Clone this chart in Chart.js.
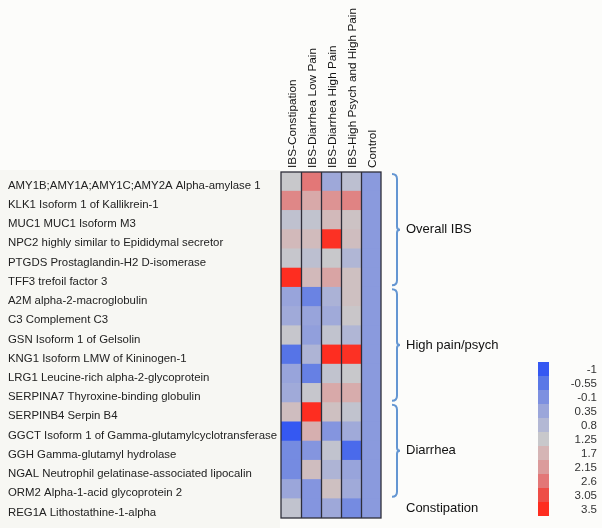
<!DOCTYPE html>
<html>
<head>
<meta charset="utf-8">
<script src="https://cdn.jsdelivr.net/npm/chart.js@4/dist/chart.umd.min.js"></script>
<style>
  html, body { margin: 0; padding: 0; background: #fcfcfa; }
  #wrap { width: 602px; height: 528px; }
</style>
</head>
<body>
<div id="wrap"><canvas id="heat"></canvas></div>
<script>
const proteins = [
  'AMY1B;AMY1A;AMY1C;AMY2A Alpha-amylase 1',
  'KLK1 Isoform 1 of Kallikrein-1',
  'MUC1 MUC1 Isoform M3',
  'NPC2 highly similar to Epididymal secretor',
  'PTGDS Prostaglandin-H2 D-isomerase',
  'TFF3 trefoil factor 3',
  'A2M alpha-2-macroglobulin',
  'C3 Complement C3',
  'GSN Isoform 1 of Gelsolin',
  'KNG1 Isoform LMW of Kininogen-1',
  'LRG1 Leucine-rich alpha-2-glycoprotein',
  'SERPINA7 Thyroxine-binding globulin',
  'SERPINB4 Serpin B4',
  'GGCT Isoform 1 of Gamma-glutamylcyclotransferase',
  'GGH Gamma-glutamyl hydrolase',
  'NGAL Neutrophil gelatinase-associated lipocalin',
  'ORM2 Alpha-1-acid glycoprotein 2',
  'REG1A Lithostathine-1-alpha'
];
const conditions = ['IBS-Constipation', 'IBS-Diarrhea Low Pain', 'IBS-Diarrhea High Pain', 'IBS-High Psych and High Pain', 'Control'];

// one value per protein
const constipation      = [1.25, 2.4, 1.05, 1.6, 1.2, 3.5, 0.3, 0.45, 1.2, -0.6, 0.3, 0.45, 1.5, -1.0, -0.2, -0.2, 0.35, 1.1];
const diarrheaLowPain   = [2.6, 1.9, 1.1, 1.55, 1.0, 1.6, -0.35, 0.3, 0.2, 0.7, -0.4, 1.2, 3.5, 1.8, 0.0, 1.5, 0.0, 0.0];
const diarrheaHighPain  = [0.4, 2.25, 1.6, 3.45, 1.25, 2.0, 0.65, 0.45, 1.1, 3.5, 1.1, 1.9, 1.45, 0.0, 1.1, 0.7, 1.45, 0.4];
const highPsychHighPain = [1.0, 2.45, 1.4, 1.5, 0.75, 1.45, 1.45, 1.3, 0.75, 3.45, 1.25, 1.85, 1.1, 0.45, -0.75, 0.3, 0.45, -0.2];
const control           = [0.1, 0.1, 0.1, 0.1, 0.1, 0.1, 0.1, 0.1, 0.1, 0.1, 0.1, 0.1, 0.1, 0.1, 0.1, 0.1, 0.1, 0.1];

// colour key
const legendTicks  = [-1, -0.55, -0.1, 0.35, 0.8, 1.25, 1.7, 2.15, 2.6, 3.05, 3.5];
const legendColors = ['#3558f2', '#5a78e6', '#7d90e0', '#9ba6da', '#b3b8d4', '#c8c8cb',
                      '#d5b5b5', '#db9b9b', '#e37777', '#ee4d47', '#fe2d20'];

// row groups on the right
const groupLabels   = ['Overall IBS', 'High pain/psych', 'Diarrhea', 'Constipation'];
const groupFirstRow = [0, 6, 12, 17];
const groupLastRow  = [5, 11, 16, 17];

const FONT = '"Liberation Sans", Arial, Helvetica, sans-serif';

function hexToRgb(h) {
  return [parseInt(h.slice(1, 3), 16), parseInt(h.slice(3, 5), 16), parseInt(h.slice(5, 7), 16)];
}
function colorFor(v) {
  if (v <= legendTicks[0]) return legendColors[0];
  const n = legendTicks.length;
  if (v >= legendTicks[n - 1]) return legendColors[n - 1];
  let i = 0;
  while (v > legendTicks[i + 1]) i++;
  const t = (v - legendTicks[i]) / (legendTicks[i + 1] - legendTicks[i]);
  const a = hexToRgb(legendColors[i]), b = hexToRgb(legendColors[i + 1]);
  const c = a.map((x, k) => Math.round(x + (b[k] - x) * t));
  return `rgb(${c[0]},${c[1]},${c[2]})`;
}

const columns = [constipation, diarrheaLowPain, diarrheaHighPain, highPsychHighPain, control];

const datasets = columns.map((vals, c) => ({
  label: conditions[c],
  data: vals.map(() => [c, c + 1]),
  backgroundColor: vals.map(colorFor),
  borderWidth: 0,
  grouped: false,
  barPercentage: 1,
  categoryPercentage: 1,
  inflateAmount: 0.4
}));

const decor = {
  id: 'decor',
  beforeDraw(chart) {
    const ctx = chart.ctx;
    ctx.save();
    ctx.fillStyle = '#fcfcfa';
    ctx.fillRect(0, 0, chart.width, chart.height);
    ctx.fillStyle = '#f7f7f3';
    ctx.fillRect(0, chart.chartArea.top - 2, chart.chartArea.left - 1, chart.height);
    ctx.restore();
  },
  afterDatasetsDraw(chart) {
    const ctx = chart.ctx;
    const xs = chart.scales.x, ys = chart.scales.y;
    const area = chart.chartArea;
    const half = (ys.getPixelForValue(1) - ys.getPixelForValue(0)) / 2;
    ctx.save();

    // column outlines
    ctx.strokeStyle = '#2e2e3a';
    ctx.lineWidth = 1.3;
    ctx.strokeRect(area.left, area.top, area.right - area.left, area.bottom - area.top);
    for (let c = 1; c < conditions.length; c++) {
      const x = Math.round(xs.getPixelForValue(c)) + 0.5;
      ctx.beginPath();
      ctx.moveTo(x, area.top);
      ctx.lineTo(x, area.bottom);
      ctx.stroke();
    }

    // braces and group labels
    const bx = area.right + 16;
    ctx.strokeStyle = '#6496d2';
    ctx.lineWidth = 2;
    ctx.font = '13px ' + FONT;
    ctx.fillStyle = '#111';
    ctx.textBaseline = 'middle';
    ctx.textAlign = 'left';
    groupLabels.forEach((lab, g) => {
      const top = ys.getPixelForValue(groupFirstRow[g]) - half + 2;
      const bot = ys.getPixelForValue(groupLastRow[g]) + half - 2;
      const mid = (top + bot) / 2;
      if (groupLastRow[g] > groupFirstRow[g]) {
        ctx.beginPath();
        ctx.moveTo(bx - 5, top);
        ctx.quadraticCurveTo(bx, top, bx, top + 5);
        ctx.lineTo(bx, mid - 3);
        ctx.quadraticCurveTo(bx, mid, bx + 3, mid);
        ctx.quadraticCurveTo(bx, mid, bx, mid + 3);
        ctx.lineTo(bx, bot - 5);
        ctx.quadraticCurveTo(bx, bot, bx - 5, bot);
        ctx.stroke();
      }
      ctx.fillText(lab, bx + 9, mid);
    });

    // colour key
    const kx = 538, kw = 11, ktop = 362, kh = 14;
    ctx.font = '11.5px ' + FONT;
    ctx.textAlign = 'right';
    legendTicks.forEach((t, i) => {
      ctx.fillStyle = colorFor(t);
      ctx.fillRect(kx, ktop + i * kh, kw, kh);
      ctx.fillStyle = '#333';
      ctx.fillText(String(t), 597, ktop + i * kh + kh / 2 + 1);
    });
    ctx.restore();
  }
};

new Chart(document.getElementById('heat'), {
  type: 'bar',
  data: { labels: proteins, datasets: datasets },
  options: {
    indexAxis: 'y',
    responsive: true,
    maintainAspectRatio: false,
    animation: false,
    layout: { padding: { left: 8, right: 221, top: 0, bottom: 10 } },
    plugins: { legend: { display: false }, tooltip: { enabled: false } },
    scales: {
      x: {
        type: 'linear',
        position: 'top',
        min: 0,
        max: conditions.length,
        grid: { display: false },
        border: { display: false },
        afterBuildTicks: (s) => { s.ticks = conditions.map((_, i) => ({ value: i + 0.5 })); },
        afterFit: (s) => { s.height = 172; },
        ticks: {
          autoSkip: false,
          minRotation: 90,
          maxRotation: 90,
          padding: -4,
          labelOffset: 16,
          color: '#111',
          font: { family: FONT, size: 11.8 },
          callback: (v) => conditions[Math.floor(v)]
        }
      },
      y: {
        type: 'category',
        grid: { display: false },
        border: { display: false },
        afterFit: (s) => { s.width = 273; },
        ticks: {
          autoSkip: false,
          crossAlign: 'far',
          labelOffset: 4,
          color: '#222',
          font: { family: FONT, size: 11.4 }
        }
      }
    }
  },
  plugins: [decor]
});
</script>
</body>
</html>
